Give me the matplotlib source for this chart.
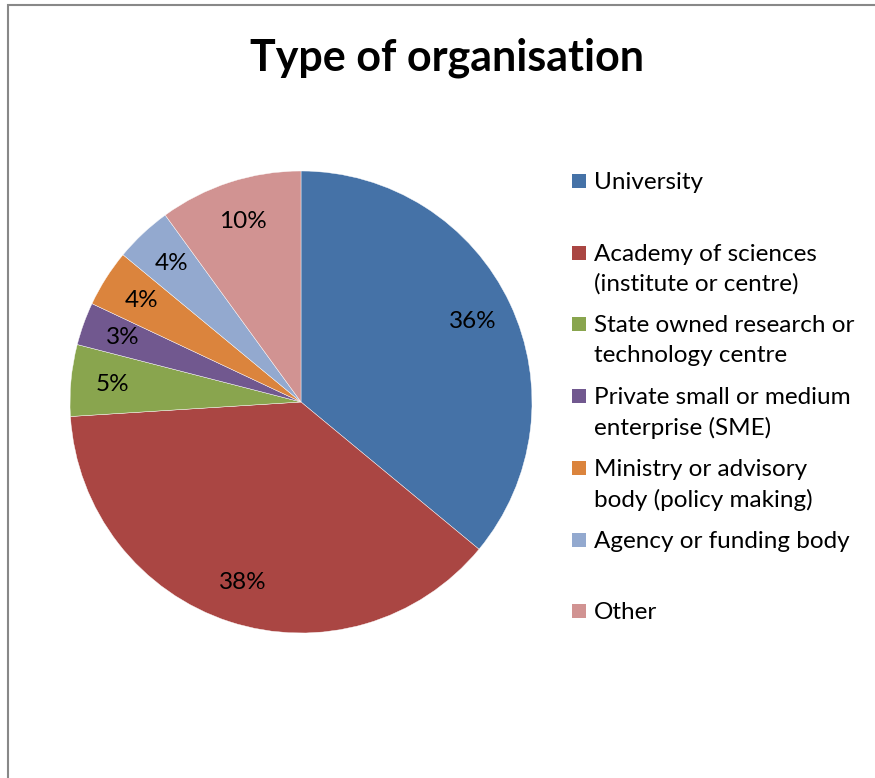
import matplotlib.pyplot as plt
from matplotlib.patches import Rectangle

# Chart data
categories = ["University", "Academy of sciences\n(institute or centre)",
              "State owned research or\ntechnology centre",
              "Private small or medium\nenterprise (SME)",
              "Ministry or advisory\nbody (policy making)",
              "Agency or funding body", "Other"]
shares = [36, 38, 5, 3, 4, 4, 10]
colors = ["#4572A7", "#AA4643", "#89A54E", "#71588F", "#DB843D", "#93A9CF", "#D19392"]

plt.rcParams['font.family'] = ['Lato', 'DejaVu Sans']

W, H = 875, 778
fig = plt.figure(figsize=(W / 100, H / 100), dpi=100)

# pie axes: centre (301, 402), radius 231 px
ax = fig.add_axes([70 / W, (H - 633) / H, 462 / W, 462 / H])
ax.pie(shares, colors=colors, startangle=90, counterclock=False,
       autopct='%d%%', pctdistance=0.82, radius=1,
       wedgeprops=dict(linewidth=0.3, edgecolor='white'),
       textprops=dict(fontsize=17.5, color='black'))
ax.set_xlim(-1, 1)
ax.set_ylim(-1, 1)
ax.axis('off')

fig.text(447 / W, 1 - 58 / H, "Type of organisation", ha='center', va='center',
         fontsize=31, fontweight='bold')

# legend, entries evenly spaced like the original
y0 = 181
step = 71.7
for i, (lab, col) in enumerate(zip(categories, colors)):
    yc = y0 + i * step
    fig.add_artist(Rectangle((572 / W, 1 - (yc + 7) / H), 14 / W, 14 / H,
                             transform=fig.transFigure, facecolor=col, edgecolor='none'))
    fig.text(594 / W, 1 - (yc - 9) / H, lab, ha='left', va='top', fontsize=17.5,
             linespacing=1.5)

# outer frame
fig.add_artist(Rectangle((7.5 / W, -0.1), 1.2, (H - 5) / H + 0.1, transform=fig.transFigure,
                         fill=False, edgecolor='#888888', linewidth=1.5))

fig.savefig("out.png", dpi=100)
